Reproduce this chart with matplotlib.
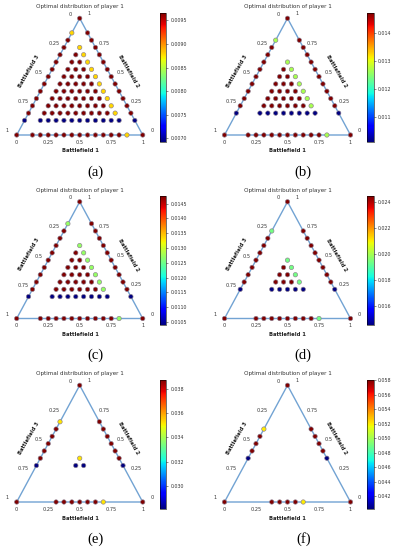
import numpy as np
import matplotlib
matplotlib.use('Agg')
import matplotlib.pyplot as plt

W, H = 396, 550
N_UNITS = 16  # resource units per player

PANEL_LABELS = ['(a)', '(b)', '(c)', '(d)', '(e)', '(f)']
# smallest non-zero allocation that appears in the support
MIN_ALLOC = [2, 3, 3, 4, 5, 6]
# probability levels
P_HIGH = [0.00966, 0.01474, 0.01475, 0.02443, 0.03877, 0.05805]
P_LOW = [0.00693, 0.01013, 0.01039, 0.01456, 0.02810, 0.04030]
P_MID = [0.00879, 0.01267, 0.01270, 0.01938, 0.03520, 0.05200]

CB_TICKS = [
    [0.0070, 0.0075, 0.0080, 0.0085, 0.0090, 0.0095],
    [0.011, 0.012, 0.013, 0.014],
    [0.0105, 0.0110, 0.0115, 0.0120, 0.0125, 0.0130, 0.0135, 0.0140, 0.0145],
    [0.016, 0.018, 0.020, 0.022, 0.024],
    [0.030, 0.032, 0.034, 0.036, 0.038],
    [0.042, 0.044, 0.046, 0.048, 0.050, 0.052, 0.054, 0.056, 0.058],
]
CB_FMT = ['%.4f', '%.3f', '%.4f', '%.3f', '%.3f', '%.3f']

AXIS_TICKS = [0, 0.25, 0.5, 0.75, 1]
AXIS_TICK_LABELS = ['0', '0.25', '0.5', '0.75', '1']

TITLE = 'Optimal distribution of player 1'
EDGE_COLOR = '#72a3d3'
TXT = '#333333'
SQ3 = np.sqrt(3) / 2


def support(m, n, p_hi, p_lo, p_mid):
    # allocations (i, j, k) of the support with their probability
    pts = []
    for j in range(n + 1):
        for i in range(n + 1 - j):
            k = n - i - j
            if any(0 < c < m for c in (i, j, k)):
                continue
            if j == m:
                p = p_lo
            elif k == m:
                p = p_mid
            else:
                p = p_hi
            pts.append((i, j, k, p))
    return pts


def px_box(x, y, w, h):
    return [x / W, 1 - (y + h) / H, w / W, h / H]


def ftext(x, y, s, **kw):
    fig.text(x / W, 1 - y / H, s, **kw)


fig = plt.figure(figsize=(W / 100, H / 100), dpi=100)

for n in range(6):
    row, col = n // 2, n % 2
    dx = col * 207.8
    dy = row * 183.5

    # triangle area
    tx, ty, tw, th = 16.7 + dx, 18.3 + dy, 126, 116.7
    ax = fig.add_axes(px_box(tx, ty, tw, th))
    ax.set_xlim(0, 1)
    ax.set_ylim(0, SQ3)
    ax.axis('off')
    ax.plot([0, 1, 0.5, 0], [0, 0, SQ3, 0], color=EDGE_COLOR, lw=1.0,
            clip_on=False, zorder=1)

    pts = support(MIN_ALLOC[n], N_UNITS, P_HIGH[n], P_LOW[n], P_MID[n])
    xs = [(p[0] + p[1] / 2.0) / N_UNITS for p in pts]
    ys = [p[1] / float(N_UNITS) * SQ3 for p in pts]
    vals = [p[3] for p in pts]
    sc = ax.scatter(xs, ys, c=vals, cmap='jet', vmin=P_LOW[n], vmax=P_HIGH[n],
                    s=10, linewidths=0.45, edgecolors='#8c7f90',
                    clip_on=False, zorder=3)

    # tick labels of the three axes
    for v, lab in zip(AXIS_TICKS, AXIS_TICK_LABELS):
        # bottom: battlefield 1
        ax.annotate(lab, xy=(v, 0), xytext=(0, -5.2), textcoords='offset points',
                    ha='center', va='center', fontsize=3.6, color=TXT)
        # left: battlefield 3 (1 at bottom-left)
        ax.annotate(lab, xy=((1 - v) / 2.0, (1 - v) * SQ3), xytext=(-6.8, 2.9),
                    textcoords='offset points', ha='center', va='center',
                    fontsize=3.6, color=TXT)
        # right: battlefield 2 (1 at top)
        ax.annotate(lab, xy=(1 - v / 2.0, v * SQ3), xytext=(6.6, 3.2),
                    textcoords='offset points', ha='center', va='center',
                    fontsize=3.6, color=TXT)

    ftext(80 + dx, 6.7 + dy, TITLE, ha='center', va='center', fontsize=4.1,
          color=TXT)
    ftext(80 + dx, 151 + dy, 'Battlefield 1', ha='center', va='center',
          fontsize=3.8, fontweight='bold', color='#222222')
    ftext(29.3 + dx, 71 + dy, 'Battlefield 3', ha='center', va='center',
          fontsize=3.8, fontweight='bold', rotation=60, color='#222222')
    ftext(128.5 + dx, 71.5 + dy, 'Battlefield 2', ha='center', va='center',
          fontsize=3.8, fontweight='bold', rotation=-60, color='#222222')
    ftext(95.5 + dx, 172 + dy, PANEL_LABELS[n], ha='center', va='center',
          fontsize=10.5, family='Liberation Serif', color='black')

    # colorbar
    cax = fig.add_axes(px_box(159.7 + col * 207.5, 12.7 + dy, 6.5, 129))
    cb = fig.colorbar(sc, cax=cax, ticks=CB_TICKS[n], format=CB_FMT[n])
    cb.outline.set_linewidth(0.4)
    cb.ax.tick_params(labelsize=3.4, length=1.5, width=0.4, pad=1.5,
                      colors=TXT)

plt.savefig('out.png', dpi=100)
